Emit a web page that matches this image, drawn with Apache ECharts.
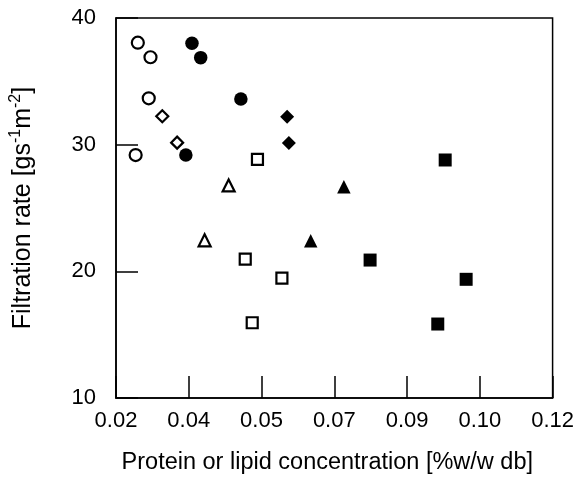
<!DOCTYPE html>
<html>
<head>
<meta charset="utf-8">
<script src="https://cdn.jsdelivr.net/npm/echarts@6/dist/echarts.min.js"></script>
<style>
html,body{margin:0;padding:0;background:#fff;}
#chart{width:577px;height:482px;}
</style>
</head>
<body>
<div id="chart"></div>
<script>
// ---- data ----
const xTickLabels = ['0.02', '0.04', '0.05', '0.07', '0.09', '0.10', '0.12'];
const yTickValues = [10, 20, 30, 40];

const openCircleX  = [0.0250, 0.0279, 0.0275, 0.0245];
const openCircleY  = [38.05, 36.9, 33.66, 29.18];
const openDiamondX = [0.0306, 0.0340];
const openDiamondY = [32.24, 30.16];
const filledCircleX = [0.0374, 0.0394, 0.0486, 0.0360];
const filledCircleY = [38.0, 36.87, 33.6, 29.18];
const filledDiamondX = [0.0592, 0.0596];
const filledDiamondY = [32.21, 30.13];
const openSquareX = [0.0524, 0.0496, 0.0580, 0.0512];
const openSquareY = [28.84, 20.97, 19.47, 15.94];
const openTriangleX = [0.0458, 0.0403];
const openTriangleY = [26.78, 22.45];
const filledTriangleX = [0.0722, 0.0646];
const filledTriangleY = [26.68, 22.42];
const filledSquareX = [0.0954, 0.0782, 0.1002, 0.0937];
const filledSquareY = [28.79, 20.89, 19.37, 15.84];

const xMin = 0.02, xMax = 0.12;
const xTickValues = xTickLabels.map((_, i) => xMin + i * (xMax - xMin) / (xTickLabels.length - 1));

function pairs(xs, ys) { return xs.map((x, i) => [x, ys[i]]); }

const FONT = "'Liberation Sans', Arial, Helvetica, sans-serif";

function openStyle(symbol, size) {
  return { type: 'scatter', symbol: symbol, symbolSize: size,
    itemStyle: { color: '#fff', borderColor: '#000', borderWidth: 2.2, opacity: 1 } };
}
function filledStyle(symbol, size) {
  return { type: 'scatter', symbol: symbol, symbolSize: size,
    itemStyle: { color: '#000', borderColor: '#000', borderWidth: 0, opacity: 1 } };
}

const series = [
  Object.assign(openStyle('circle', 12), { data: pairs(openCircleX, openCircleY) }),
  Object.assign(openStyle('diamond', 12), { data: pairs(openDiamondX, openDiamondY) }),
  Object.assign(filledStyle('circle', 13.5), { data: pairs(filledCircleX, filledCircleY) }),
  Object.assign(filledStyle('diamond', 14), { data: pairs(filledDiamondX, filledDiamondY) }),
  Object.assign(openStyle('rect', 11), { data: pairs(openSquareX, openSquareY) }),
  Object.assign(openStyle('triangle', 12), { data: pairs(openTriangleX, openTriangleY) }),
  Object.assign(filledStyle('triangle', 13.5), { data: pairs(filledTriangleX, filledTriangleY) }),
  Object.assign(filledStyle('rect', 13), { data: pairs(filledSquareX, filledSquareY) })
];
series.forEach(s => { s.emphasis = { disabled: true }; s.animation = false; });

const chart = echarts.init(document.getElementById('chart'), null, { renderer: 'canvas' });
chart.setOption({
  animation: false,
  backgroundColor: '#fff',
  grid: { left: 114.5, right: 22, top: 18, bottom: 84, show: true,
          borderColor: '#000', borderWidth: 1.5, backgroundColor: 'transparent' },
  xAxis: {
    type: 'value', min: xMin, max: xMax,
    name: 'Protein or lipid concentration [%w/w db]',
    nameLocation: 'middle', nameGap: 53,
    nameTextStyle: { fontFamily: FONT, fontSize: 23.5, color: '#000', padding: [0, 14, 0, 0] },
    axisLine: { show: true, lineStyle: { color: '#000', width: 1.5 } },
    axisTick: { show: true, inside: true, length: 22, lineStyle: { color: '#000', width: 1.5 },
                customValues: xTickValues },
    axisLabel: { customValues: xTickValues, margin: 12, fontFamily: FONT, fontSize: 22, color: '#000',
      formatter: function (v) {
        let best = 0, bd = Infinity;
        xTickValues.forEach((t, i) => { const d = Math.abs(t - v); if (d < bd) { bd = d; best = i; } });
        return xTickLabels[best];
      } },
    splitLine: { show: false }
  },
  yAxis: {
    type: 'value', min: yTickValues[0], max: yTickValues[yTickValues.length - 1], interval: 10,
    name: '{n|Filtration rate [gs}{s|-1}{n|m}{s|-2}{n|]}',
    nameLocation: 'middle', nameGap: 80, nameRotate: 90,
    nameTextStyle: { fontFamily: FONT, fontSize: 25, color: '#000',
      rich: {
        n: { fontFamily: FONT, fontSize: 25, color: '#000', lineHeight: 28, verticalAlign: 'bottom' },
        s: { fontFamily: FONT, fontSize: 16, color: '#000', lineHeight: 28, verticalAlign: 'top' }
      } },
    axisLine: { show: true, lineStyle: { color: '#000', width: 1.5 } },
    axisTick: { show: true, inside: true, length: 22, lineStyle: { color: '#000', width: 1.5 } },
    axisLabel: { margin: 20, fontFamily: FONT, fontSize: 22, color: '#000' },
    splitLine: { show: false }
  },
  series: series
});
</script>
</body>
</html>
